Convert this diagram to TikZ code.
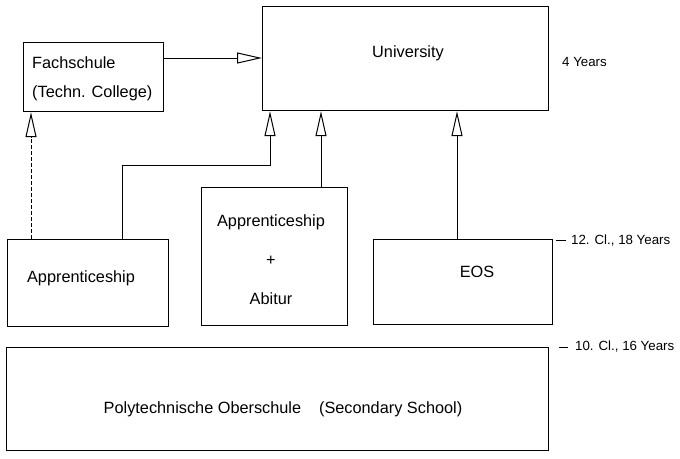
\documentclass[tikz,border=0pt]{standalone}
\usepackage{fontspec}
\setmainfont{Liberation Sans}
\usetikzlibrary{arrows.meta,calc}
\begin{document}
\begin{tikzpicture}[x=1pt,y=-1pt,
  box/.style={draw,line width=1.2pt,inner sep=0pt,anchor=north west},
  txt/.style={inner sep=0pt,font=\fontsize{16.3}{19}\selectfont},
  small/.style={inner sep=0pt,anchor=west,font=\fontsize{13.3}{15}\selectfont},
  arr/.style={line width=0.9pt,-{Triangle[open,length=25pt,width=11pt,line width=1pt]}},
  conn/.style={line width=0.9pt}]
\useasboundingbox (0,0) rectangle (680,458);
% boxes
\node[box,minimum width=140pt,minimum height=69pt] (fach) at (23,42) {};
\node[box,minimum width=286pt,minimum height=104pt] (uni) at (262,6) {};
\node[box,minimum width=161pt,minimum height=87pt] (appr) at (7,239) {};
\node[box,minimum width=146pt,minimum height=138pt] (abi) at (201,187) {};
\node[box,minimum width=179pt,minimum height=85pt] (eos) at (373,239) {};
\node[box,minimum width=542pt,minimum height=103pt] (pos) at (6,347) {};
% texts
\node[txt,anchor=west] (tfach1) at (32,63) {Fachschule};
\node[txt,anchor=west] (tfach2) at (32,93) {(Techn. College)};
\node[txt] (tuni) at (408,53) {University};
\node[txt] (tappr) at (81,278) {Apprenticeship};
\node[txt] (tabi1) at (271,222) {Apprenticeship};
\node[txt] (tabi2) at (271,261) {+};
\node[txt] (tabi3) at (271,299) {Abitur};
\node[txt] (teos) at (477,272) {EOS};
\node[txt] (tpos) at (283,409) {Polytechnische Oberschule\hspace{1.1em}(Secondary School)};
% side labels
\node[small] (l4) at (562,62) {4 Years};
\coordinate (t12a) at (556,240);
\coordinate (t12b) at (566,240);
\draw[conn] (t12a) -- (t12b);
\node[small] (l12) at (571,241) {12. Cl., 18 Years};
\coordinate (t10a) at (559,347);
\coordinate (t10b) at (568,347);
\draw[conn] (t10a) -- (t10b);
\node[small] (l10) at (575,347) {10. Cl., 16 Years};
% connectors
\draw[arr] ($(fach.north east)+(0,16)$) -- ($(uni.north west)+(0,52)$);
\coordinate (j1) at (122,165);
\coordinate (j2) at (270,165);
\draw[arr] (appr.north -| j1) -- (j1) -- (j2) -- (uni.south -| j2);
\coordinate (ca) at (321,0);
\draw[arr] (abi.north -| ca) -- (uni.south -| ca);
\coordinate (ce) at (457,0);
\draw[arr] (eos.north -| ce) -- (uni.south -| ce);
\coordinate (cf) at (31,0);
\draw[arr,dashed,dash pattern=on 4pt off 2pt] (appr.north -| cf) -- (fach.south -| cf);
\end{tikzpicture}
\end{document}
